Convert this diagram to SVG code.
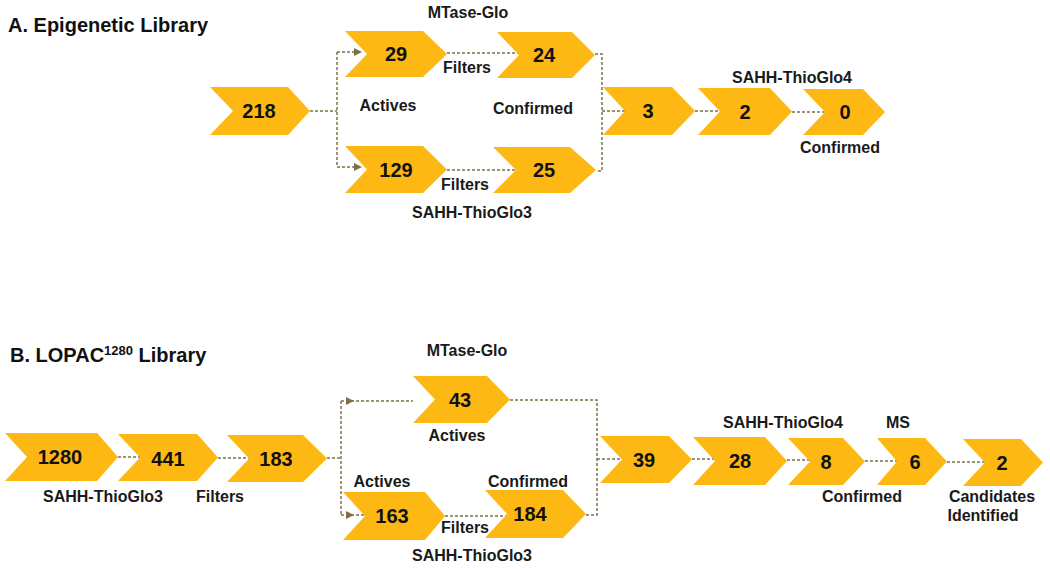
<svg xmlns="http://www.w3.org/2000/svg" width="1050" height="569" viewBox="0 0 1050 569">
<style>
.chev{fill:#FDB813;}
.num{font-family:"Liberation Sans",Arial,sans-serif;font-weight:bold;font-size:20px;fill:#111;text-anchor:middle;}
.lbl{font-family:"Liberation Sans",Arial,sans-serif;font-weight:bold;font-size:16px;fill:#1a1a1a;text-anchor:middle;}
.title{font-family:"Liberation Sans",Arial,sans-serif;font-weight:bold;font-size:20px;fill:#111;}
.dash{fill:none;stroke:#7d7048;stroke-width:1.5;stroke-dasharray:3 2;}
.ah{fill:#7d7048;}
</style>
<rect width="1050" height="569" fill="#fff"/>

<text class="title" x="8" y="32">A. Epigenetic Library</text>
<text class="title" x="10" y="362">B. LOPAC<tspan font-size="13" dy="-7">1280</tspan><tspan dy="7"> Library</tspan></text>

<g id="connectors">
  <!-- top section -->
  <path class="dash" d="M310 111 H337 M337 52 V167 M337 52 H360 M337 167 H360"/>
  <polygon class="ah" points="362,52 354,48 354,56"/>
  <polygon class="ah" points="362,167 354,163 354,171"/>
  <path class="dash" d="M447 53 H519 M447 170 H516"/>
  <path class="dash" d="M595 54 H602 V171 H596 M602 111 H625"/>
  <path class="dash" d="M695 111 H720 M792 112 H825"/>
  <!-- bottom section -->
  <path class="dash" d="M118 457 H140 M218 458 H249"/>
  <path class="dash" d="M327 458 H341 M341 401 V515 M341 401 H413 M341 515 H365"/>
  <polygon class="ah" points="354,401 346,397 346,405"/>
  <polygon class="ah" points="354,515 346,511 346,519"/>
  <path class="dash" d="M445 516 H507"/>
  <path class="dash" d="M510 400 H597 V515 H586 M597 459 H622"/>
  <path class="dash" d="M692 459 H715 M787 460 H810 M865 461 H897 M947 462 H985"/>
</g>

<!-- Section A nodes -->
<g id="nA218"><polygon class="chev" points="210,87 288,87 310,111 288,135 210,135 233,111"/><text class="num" x="259" y="118">218</text></g>
<g id="nA29"><polygon class="chev" points="345,31 423,31 447,54 423,77 345,77 367,54"/><text class="num" x="396" y="61">29</text></g>
<g id="nA24"><polygon class="chev" points="497,32 572,32 595,55 572,78 497,78 519,55"/><text class="num" x="544" y="62">24</text></g>
<g id="nA129"><polygon class="chev" points="345,146 423,146 447,169.5 423,193 345,193 367,169.5"/><text class="num" x="396" y="177">129</text></g>
<g id="nA25"><polygon class="chev" points="493,147 570,147 596,170 570,193 493,193 516,170"/><text class="num" x="544" y="177">25</text></g>
<g id="nA3"><polygon class="chev" points="603,87 672,87 695,111 672,135 603,135 625,111"/><text class="num" x="648" y="118">3</text></g>
<g id="nA2"><polygon class="chev" points="698,88 770,88 792,111.5 770,135 698,135 720,111.5"/><text class="num" x="745" y="119">2</text></g>
<g id="nA0"><polygon class="chev" points="803,89 863,89 885,112 863,135 803,135 825,112"/><text class="num" x="845" y="119">0</text></g>

<g id="labelsA">
  <text class="lbl" x="468" y="18">MTase-Glo</text>
  <text class="lbl" x="467" y="73">Filters</text>
  <text class="lbl" x="388" y="111">Actives</text>
  <text class="lbl" x="533" y="114">Confirmed</text>
  <text class="lbl" x="465" y="190">Filters</text>
  <text class="lbl" x="472" y="218">SAHH-ThioGlo3</text>
  <text class="lbl" x="792" y="83">SAHH-ThioGlo4</text>
  <text class="lbl" x="840" y="153">Confirmed</text>
</g>

<!-- Section B nodes -->
<g id="nB1280"><polygon class="chev" points="5,433 97,433 118,457 97,481 5,481 27,457"/><text class="num" x="60" y="464">1280</text></g>
<g id="nB441"><polygon class="chev" points="118,434 197,434 218,457.5 197,481 118,481 140,457.5"/><text class="num" x="168" y="466">441</text></g>
<g id="nB183"><polygon class="chev" points="227,435 303,435 327,458.5 303,482 227,482 249,458.5"/><text class="num" x="276" y="466">183</text></g>
<g id="nB43"><polygon class="chev" points="413,376 487,376 510,399.5 487,423 413,423 435,399.5"/><text class="num" x="460" y="407">43</text></g>
<g id="nB163"><polygon class="chev" points="343,492 425,492 445,516 425,540 343,540 365,516"/><text class="num" x="392" y="523">163</text></g>
<g id="nB184"><polygon class="chev" points="485,490 563,490 586,514 563,538 485,538 507,514"/><text class="num" x="530" y="521">184</text></g>
<g id="nB39"><polygon class="chev" points="600,436 669,436 692,459.5 669,483 600,483 622,459.5"/><text class="num" x="644" y="467">39</text></g>
<g id="nB28"><polygon class="chev" points="693,437 765,437 787,461 765,485 693,485 715,461"/><text class="num" x="740" y="468">28</text></g>
<g id="nB8"><polygon class="chev" points="788,438 843,438 865,461.5 843,485 788,485 810,461.5"/><text class="num" x="826" y="469">8</text></g>
<g id="nB6"><polygon class="chev" points="877,438 925,438 947,461.5 925,485 877,485 897,461.5"/><text class="num" x="915" y="469">6</text></g>
<g id="nB2"><polygon class="chev" points="963,439 1021,439 1043,462.5 1021,486 963,486 985,462.5"/><text class="num" x="1002" y="470">2</text></g>

<g id="labelsB">
  <text class="lbl" x="467" y="356">MTase-Glo</text>
  <text class="lbl" x="457" y="441">Actives</text>
  <text class="lbl" x="103" y="502">SAHH-ThioGlo3</text>
  <text class="lbl" x="220" y="502">Filters</text>
  <text class="lbl" x="382" y="487">Actives</text>
  <text class="lbl" x="528" y="487">Confirmed</text>
  <text class="lbl" x="465" y="533">Filters</text>
  <text class="lbl" x="472" y="561">SAHH-ThioGlo3</text>
  <text class="lbl" x="783" y="428">SAHH-ThioGlo4</text>
  <text class="lbl" x="898" y="428">MS</text>
  <text class="lbl" x="862" y="502">Confirmed</text>
  <text class="lbl" x="992" y="502">Candidates</text>
  <text class="lbl" x="983" y="521">Identified</text>
</g>
</svg>
